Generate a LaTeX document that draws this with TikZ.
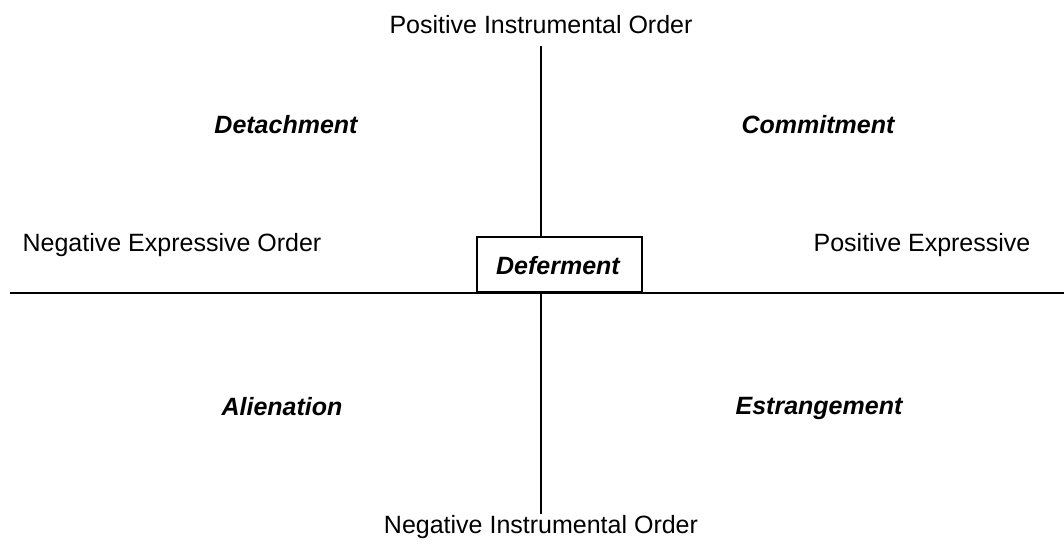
\documentclass[tikz,border=0pt]{standalone}
\usepackage{fontspec}
\setmainfont{Liberation Sans}
\begin{document}
\begin{tikzpicture}[x=1pt,y=-1pt,
  lbl/.style={font=\fontsize{25}{30}\selectfont, inner sep=0pt},
  quad/.style={font=\fontsize{25}{30}\selectfont\bfseries\itshape, inner sep=0pt},
  axis/.style={line width=2.2pt}]
\useasboundingbox (0,0) rectangle (1064,545);
\node[lbl] (pio) at (541,25) {Positive Instrumental Order};
\node[lbl] (nio) at (541,527) {Negative Instrumental Order};
\node[lbl] (neo) at (172,245) {Negative Expressive Order};
\node[lbl] (pe) at (922,245) {Positive Expressive};
\node[quad] (det) at (286,125) {Detachment};
\node[quad] (com) at (818,125) {Commitment};
\node[quad, anchor=base] (ali) at (282,415) {Alienation};
\node[quad, anchor=base] (est) at (819,414) {Estrangement};
\coordinate (vt) at (541,46);
\coordinate (vb) at (541,514);
\coordinate (hl) at (10,293);
\coordinate (hr) at (1064,293);
\draw[axis] (vt) -- (vb);
\draw[axis] (hl) -- (hr);
\node[quad, draw, line width=2.2pt, fill=white, minimum width=165pt, minimum height=55pt, anchor=south west] (def) at (476,293) {};
\node[quad] (deft) at (558,266) {Deferment};
\end{tikzpicture}
\end{document}
